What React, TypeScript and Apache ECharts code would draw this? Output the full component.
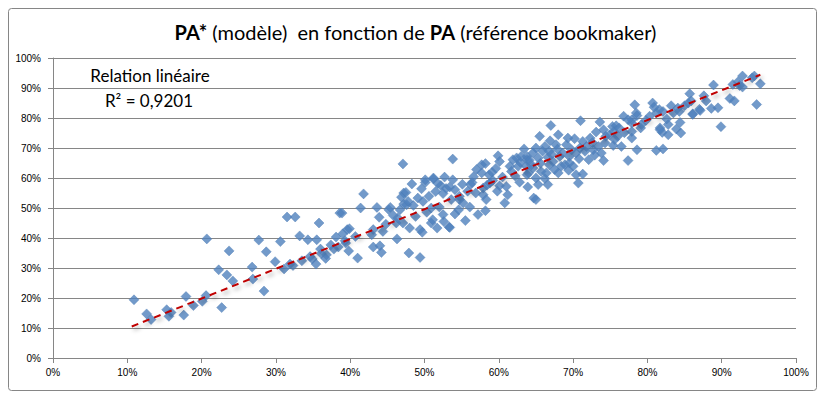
import React, { useEffect, useRef } from "react";
import * as echarts from "echarts";

const titleBold1 = "PA*";
const titleRest1 = " (modèle)  en fonction de ";
const titleBold2 = "PA";
const titleRest2 = " (référence bookmaker)";
const noteLine1 = "Relation linéaire";
const noteLine2 = "R² = 0,9201";

const xTicks = [0, 10, 20, 30, 40, 50, 60, 70, 80, 90, 100];
const yTicks = [0, 10, 20, 30, 40, 50, 60, 70, 80, 90, 100];

// PA (x, %) vs PA* (y, %)
const lowPoints: number[][] = [
  [10.9, 19.4], [12.6, 14.7], [13.2, 12.8], [15.3, 16.1], [15.6, 13.9], [15.9, 15.2], [17.6, 14.3],
  [17.9, 20.5], [18.9, 17.5], [20.1, 18.9], [20.6, 20.8], [20.7, 39.7], [22.3, 29.4], [22.7, 16.8],
  [23.4, 27.7], [23.7, 35.7], [24.2, 25.7], [26.8, 30.3], [26.9, 26.3], [27.7, 39.3], [28.4, 22.3],
  [28.7, 35.4], [29.9, 32.1], [30.6, 38.8], [31.1, 29.7], [31.5, 47], [31.9, 31.3], [32.3, 30.8],
  [32.6, 47], [33.2, 40.7], [33.5, 32.4], [34.3, 39.4], [34.6, 33.8], [34.9, 33], [35.4, 31.3],
  [35.5, 39.4], [35.8, 45], [36, 36.3], [36.1, 34.8], [36.7, 33.2], [36.8, 34.4], [37.4, 37.7],
  [37.8, 36.3], [38.1, 40.3], [38.6, 48.3], [38.9, 48.3], [39, 41.4], [39.4, 38.3], [39.8, 35.7],
  [39.6, 42.8], [39.9, 43.1], [40.7, 40.5], [41, 33.3], [41.4, 50], [41.8, 54.7], [38.4, 37.0],
  [39.3, 39.1],
];

const midPoints: number[][] = [
  [42.9, 41.1], [43.1, 42.8], [43.1, 37], [43.6, 50.2], [43.9, 46.9], [44, 37.4], [44.2, 35.2],
  [44.4, 42.2], [45.2, 49.4], [45.4, 50.2], [46.2, 45], [46.3, 39.7], [46.4, 46.7], [47.1, 45],
  [47.1, 64.7], [47.2, 55], [47.2, 51.3], [47.5, 55.2], [47.6, 51.1], [47.8, 52.2], [47.9, 35],
  [48, 43.3], [48.3, 58], [49.1, 53.3], [49.4, 42.8], [49.4, 33.5], [49.7, 41.9], [49.8, 52.2],
  [50.1, 58.5], [50.1, 59.4], [50.6, 53.9], [50.9, 50], [50.9, 45], [51.2, 59.7], [51.2, 60],
  [51.7, 43.3], [52, 50.3], [52.6, 45.5], [52.7, 60.3], [53.3, 43.7], [53.8, 66.3], [51.5, 55.5],
  [52.2, 57.5], [52.9, 56.5], [51.8, 58.2], [52.5, 54.8], [52.5, 47.8], [51.1, 46.1], [48.5, 50.8],
  [46.7, 49.4], [45.8, 47.5], [44.8, 44.6], [48.8, 47.2], [50.3, 48.6], [49.6, 56.4], [46.9, 53.6],
];

const centrePoints: number[][] = [
  [53.8, 59.4], [53.4, 57], [54.1, 56.1], [53.6, 52.8], [54.7, 52.8], [54.1, 48], [53.4, 43.5],
  [55.5, 45.8], [56.1, 50.3], [57.2, 47.8], [58.2, 49.1], [56.4, 58.5], [57, 62.8], [57.7, 64.4],
  [58.2, 64.8], [56.9, 55], [57.9, 54.4], [58.3, 52.8], [58.7, 61.1], [59.1, 61.9], [59.2, 59.2],
  [59.9, 67.4], [60.1, 65.5], [60.1, 57.4], [61.2, 54.4], [60.8, 51.7], [61.5, 63.9], [62.4, 66.7],
  [63.4, 69.7], [62.9, 65.2], [63.8, 66.1], [61.7, 62.2], [63.9, 57], [64.7, 53.3], [64, 61.7],
  [57.7, 61.7], [58.8, 58.3], [56.2, 57.8], [57.9, 56.7], [62.6, 63.9], [63.0, 67.2], [63.7, 63.9],
  [61.9, 66.1], [61, 57.2], [54.7, 53.9], [55.2, 51.7], [54.6, 49.4], [55.8, 55.6], [56.6, 60.4],
  [59.6, 63.2], [60.5, 60.3], [62.2, 60.7], [62.8, 58.6], [59.8, 55.6], [55.1, 57.9], [58.4, 57.6],
];

const upperPoints: number[][] = [
  [67, 77.5], [71, 79.1], [73.6, 78.7], [75.3, 77.2], [65.5, 73.9], [68, 74.4], [65, 70],
  [66.2, 70.5], [67.7, 71.1], [69.1, 71.1], [70.2, 73.1], [71.3, 72.2], [72.3, 73.3], [74.1, 76.1],
  [74.4, 73.9], [63.8, 67.2], [65.3, 66.7], [66.6, 66.9], [67.3, 65.5], [68.6, 68.3], [69.5, 67.2],
  [70.4, 68.3], [71.6, 68.9], [72.7, 69.4], [73.4, 70.5], [73.8, 68.3], [74.1, 65.8], [72.1, 66.1],
  [64.6, 63.3], [65.7, 62.2], [66.2, 59.8], [66.6, 57.8], [68, 61.7], [70, 63.9], [70.4, 61.1],
  [70.7, 58.3], [71.3, 61.3], [65, 52.8], [65.3, 57.8], [68.4, 63.9], [68.9, 64.4], [64.6, 68.3],
  [65.9, 68.9], [66.8, 68.9], [68.2, 67.2], [69.8, 69.4], [70.9, 70], [71.8, 70.5], [69.3, 73.3],
  [66.8, 64.4], [67.5, 62.8], [69.5, 65], [63.8, 61.1], [64.4, 64.4], [65, 60], [66.4, 61.7],
  [74.9, 74.4], [74.3, 71.7], [67.9, 69.6], [66.9, 72.4], [72.6, 71.8], [73.1, 75.3], [64.1, 65.9],
  [67.1, 67.8], [70.8, 66.4], [72.9, 67.6], [69.4, 62.6], [65.6, 64.9],
];

const highPoints: number[][] = [
  [78.3, 84.4], [80.7, 85], [85.7, 88.1], [87.6, 87.4], [83.2, 84.1], [84.1, 83.3], [85, 84.1],
  [81.6, 82.8], [82.1, 82.2], [81.2, 81.7], [80.3, 80.6], [86.1, 81.4], [87.1, 82.5], [76.8, 80.6],
  [77.9, 79.4], [78.6, 80.8], [79.1, 76.7], [77.9, 78.3], [75.8, 77.4], [75.5, 75.5], [76, 73.9],
  [75.4, 70.8], [76.5, 70.5], [77.9, 73.3], [78.6, 69.4], [77.4, 65.8], [81.7, 76.7], [82, 75.2],
  [82.8, 77.8], [83.9, 76.3], [84.4, 78.5], [84.5, 75], [81.2, 69.2], [82.1, 69.7], [77.4, 79.4],
  [78.5, 81.7], [79.2, 77.8], [77.9, 75.5], [75.6, 72.8], [76.2, 76.7], [82.6, 79.7], [83.5, 81.7],
  [84.3, 82.2], [85.5, 85], [81.7, 76.1], [82.8, 74.4], [80.9, 83.6], [79.8, 79.2], [76.9, 75.1],
  [85.9, 85.7], [86.1, 81.2], [87, 82.9], [87.9, 85.7], [88.6, 83.2], [88.9, 91], [89.5, 83.4],
  [89.9, 77.1], [91.1, 86.5], [91.7, 85.7], [91.5, 91.2], [92.2, 92.1], [92.8, 94], [92.8, 90.3],
  [94.1, 93.4], [94.7, 84.5], [95.2, 91.4], [94.4, 94], [92.4, 90.8],
];

// linear trend line end points (x %, y %)
const trendLine: number[][] = [
  [10.6, 10.5],
  [95.2, 94.4],
];

const allPoints = [...lowPoints, ...midPoints, ...centrePoints, ...upperPoints, ...highPoints];

export default function App() {
  const ref = useRef<HTMLDivElement>(null);

  useEffect(() => {
    if (!ref.current) return;
    const chart = echarts.init(ref.current, null, { renderer: "svg" });
    const axisFont = "'Liberation Sans', Arial, sans-serif";
    const titleFont = "Lato, 'Open Sans', sans-serif";
    chart.setOption({
      animation: false,
      backgroundColor: "#ffffff",
      title: {
        text: `{b|${titleBold1}}{n|${titleRest1}}{b|${titleBold2}}{n|${titleRest2}}`,
        left: "center",
        top: 17,
        textStyle: {
          rich: {
            b: { fontFamily: titleFont, fontSize: 20, fontWeight: "bold", color: "#000" },
            n: { fontFamily: titleFont, fontSize: 20, fontWeight: "normal", color: "#000" },
          },
        },
      },
      graphic: [
        {
          type: "rect",
          shape: { x: 8.5, y: 8.5, width: 808, height: 382, r: 3 },
          style: { fill: "none", stroke: "#868686", lineWidth: 1 },
          z: -1,
        },
        {
          type: "text",
          x: 150,
          y: 75,
          style: {
            text: noteLine1,
            fontFamily: titleFont,
            fontSize: 17,
            fill: "#000",
            align: "center",
            verticalAlign: "middle",
          },
        },
        {
          type: "text",
          x: 149,
          y: 100,
          style: {
            text: noteLine2,
            fontFamily: titleFont,
            fontSize: 17,
            fill: "#000",
            align: "center",
            verticalAlign: "middle",
          },
        },
      ],
      grid: { left: 53, right: 35, top: 58, bottom: 40, containLabel: false },
      xAxis: {
        type: "value",
        min: xTicks[0],
        max: xTicks[xTicks.length - 1],
        interval: 10,
        axisLine: { show: true, lineStyle: { color: "#868686", width: 1 } },
        axisTick: { show: true, inside: false, length: 5, lineStyle: { color: "#868686" } },
        splitLine: { show: false },
        axisLabel: {
          formatter: (v: number) => `${v}%`,
          fontFamily: axisFont,
          fontSize: 10,
          color: "#000",
          margin: 9,
        },
      },
      yAxis: {
        type: "value",
        min: yTicks[0],
        max: yTicks[yTicks.length - 1],
        interval: 10,
        axisLine: { show: true, lineStyle: { color: "#868686", width: 1 } },
        axisTick: { show: true, inside: false, length: 5, lineStyle: { color: "#868686" } },
        splitLine: { show: true, lineStyle: { color: "#868686", width: 1 } },
        axisLabel: {
          formatter: (v: number) => `${v}%`,
          fontFamily: axisFont,
          fontSize: 10,
          color: "#000",
          margin: 12,
        },
      },
      series: [
        {
          type: "scatter",
          data: allPoints,
          symbol: "diamond",
          symbolSize: 10,
          itemStyle: { color: "#4F81BD", borderColor: "#4A7AB4", borderWidth: 0.5 },
          z: 2,
        },
        {
          type: "line",
          data: trendLine,
          symbol: "none",
          lineStyle: {
            color: "#C00000",
            width: 2,
            type: [7, 5],
            shadowColor: "rgba(0,0,0,0.35)",
            shadowBlur: 4,
            shadowOffsetX: 2,
            shadowOffsetY: 3,
          },
          z: 3,
        },
      ],
    });
    return () => chart.dispose();
  }, []);

  return (
    <div
      ref={ref}
      style={{ position: "absolute", left: 0, top: 0, width: 831, height: 398 }}
    />
  );
}
